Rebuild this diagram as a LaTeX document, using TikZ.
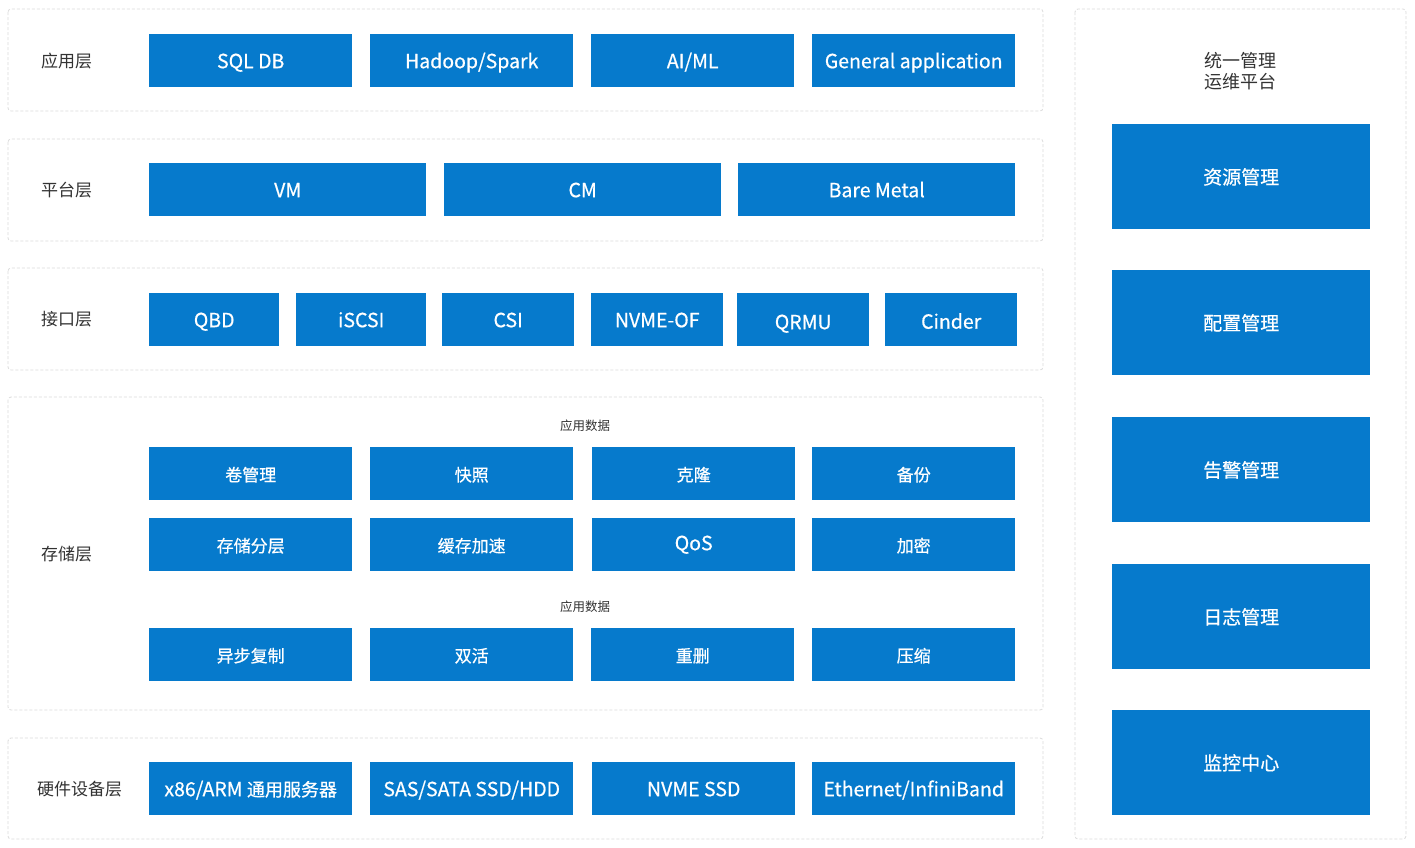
\documentclass[tikz,border=0pt]{standalone}
\usepackage{fontspec}
\setmainfont{Noto Sans CJK SC}
\newfontfamily\boxfont[FakeBold=0.6]{Noto Sans CJK SC}
\definecolor{boxblue}{HTML}{067ACC}
\definecolor{edgegray}{HTML}{DCDCDC}
\definecolor{labelgray}{HTML}{333333}
\tikzset{
  panel/.style={draw=edgegray, line width=0.8pt, dash pattern=on 3pt off 2pt, rounded corners=3pt},
  blk/.style={fill=boxblue, text=white, anchor=north west, inner sep=0pt, minimum height=53pt,
    text height=16pt, text depth=1pt, font=\boxfont\fontsize{19.5}{21}\selectfont},
  cjkblk/.style={blk, font=\boxfont\fontsize{17}{18}\selectfont},
  sidebox/.style={blk, minimum width=258pt, minimum height=105pt, font=\boxfont\fontsize{19}{21}\selectfont},
  layername/.style={text=labelgray, anchor=west, inner sep=0pt, font=\fontsize{17}{19}\selectfont},
  datanote/.style={text=labelgray, inner sep=0pt, font=\fontsize{12.5}{15}\selectfont}
}
\begin{document}
\begin{tikzpicture}[x=1pt, y=-1pt]
            \useasboundingbox[fill=white] (0,0) rectangle (1415,847);
            % panels
            \draw[panel] (8,9) rectangle (1043,111);
            \draw[panel] (8,139) rectangle (1043,241);
            \draw[panel] (8,268) rectangle (1043,370);
            \draw[panel] (8,397) rectangle (1043,710);
            \draw[panel] (8,738) rectangle (1043,839);
            \draw[panel] (1075,9) rectangle (1406,839);

            % application layer
            \node[layername] (applbl) at (41,61) {应用层};
            \node[blk, minimum width=203pt] (sqldb) at (149,34) {SQL DB};
            \node[blk, minimum width=203pt] (hadoop) at (370,34) {Hadoop/Spark};
            \node[blk, minimum width=203pt] (aiml) at (591,34) {AI/ML};
            \node[blk, minimum width=203pt] (general) at (812,34) {General application};

            % platform layer
            \node[layername] (platlbl) at (41,190) {平台层};
            \node[blk, minimum width=277pt] (vm) at (149,163) {VM};
            \node[blk, minimum width=277pt] (cm) at (444,163) {CM};
            \node[blk, minimum width=277pt] (baremetal) at (738,163) {Bare Metal};

            % interface layer
            \node[layername] (ifacelbl) at (41,319) {接口层};
            \node[blk, minimum width=130pt] (qbd) at (149,293) {QBD};
            \node[blk, minimum width=130pt] (iscsi) at (296,293) {iSCSI};
            \node[blk, minimum width=132pt] (csi) at (442,293) {CSI};
            \node[blk, minimum width=132pt] (nvmeof) at (591,293) {NVME-OF};
            \node[blk, minimum width=132pt] (qrmu) at (737,293) {\raisebox{-2pt}{QRMU}};
            \node[blk, minimum width=132pt] (cinder) at (885,293) {\raisebox{-1.5pt}{Cinder}};

            % storage layer
            \node[layername] (storlbl) at (41,554) {存储层};
            \node[datanote] (datanote1) at (585,426) {应用数据};
            \node[cjkblk, minimum width=203pt] (volume) at (149,447) {卷管理};
            \node[cjkblk, minimum width=203pt] (snapshot) at (370,447) {快照};
            \node[cjkblk, minimum width=203pt] (clone) at (592,447) {克隆};
            \node[cjkblk, minimum width=203pt] (backup) at (812,447) {备份};
            \node[cjkblk, minimum width=203pt] (tiering) at (149,518) {存储分层};
            \node[cjkblk, minimum width=203pt] (cache) at (370,518) {缓存加速};
            \node[blk, minimum width=203pt] (qos) at (592,518) {\raisebox{2pt}{QoS}};
            \node[cjkblk, minimum width=203pt] (encrypt) at (812,518) {加密};
            \node[datanote] (datanote2) at (585,607) {应用数据};
            \node[cjkblk, minimum width=203pt] (asyncrep) at (149,628) {异步复制};
            \node[cjkblk, minimum width=203pt] (active) at (370,628) {双活};
            \node[cjkblk, minimum width=203pt] (dedup) at (591,628) {重删};
            \node[cjkblk, minimum width=203pt] (compress) at (812,628) {压缩};

            % hardware layer
            \node[layername] (hwlbl) at (37,789) {硬件设备层};
            \node[blk, minimum width=203pt] (server) at (149,762) {x86/ARM {\fontsize{18}{20}\selectfont 通用服务器}};
            \node[blk, minimum width=203pt] (disk) at (370,762) {SAS/SATA SSD/HDD};
            \node[blk, minimum width=203pt] (nvmessd) at (592,762) {NVME SSD};
            \node[blk, minimum width=203pt] (network) at (812,762) {Ethernet/InfiniBand};

            % management platform
            \node[text=labelgray, align=center, inner sep=0pt, font=\fontsize{18}{21}\selectfont] (mgmt) at (1240,71) {统一管理\\运维平台};
            \node[sidebox] (resource) at (1112,124) {资源管理};
            \node[sidebox] (config) at (1112,270) {配置管理};
            \node[sidebox] (alarm) at (1112,417) {告警管理};
            \node[sidebox] (logs) at (1112,564) {日志管理};
            \node[sidebox] (monitor) at (1112,710) {监控中心};
        \end{tikzpicture}
\end{document}
